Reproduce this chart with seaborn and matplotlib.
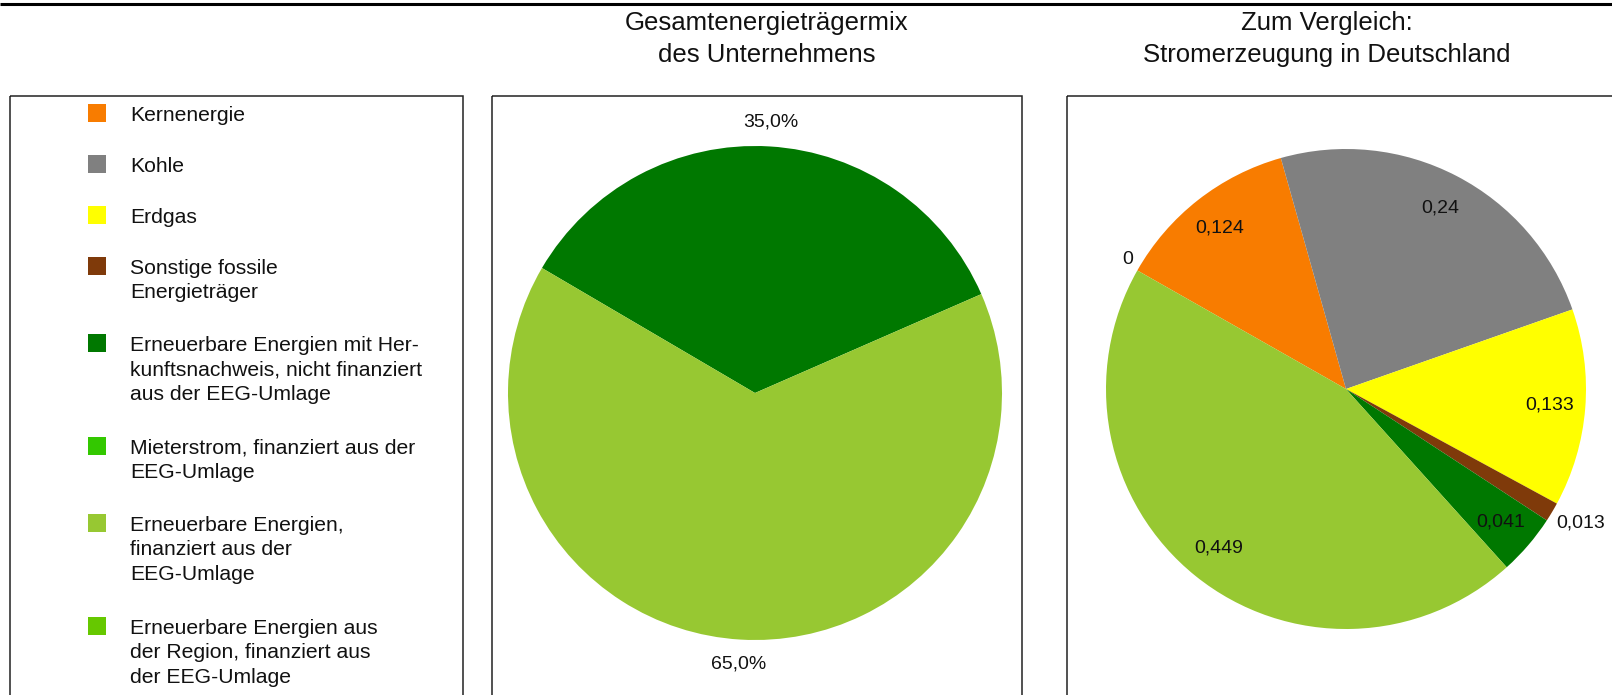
import matplotlib
matplotlib.use("Agg")
import matplotlib.pyplot as plt
from matplotlib.patches import Rectangle
import numpy as np
import seaborn as sns

categories = [
    "Kernenergie",
    "Kohle",
    "Erdgas",
    "Sonstige fossile\nEnergieträger",
    "Erneuerbare Energien mit Her-\nkunftsnachweis, nicht finanziert\naus der EEG-Umlage",
    "Mieterstrom, finanziert aus der\nEEG-Umlage",
    "Erneuerbare Energien,\nfinanziert aus der\nEEG-Umlage",
    "Erneuerbare Energien aus\nder Region, finanziert aus\nder EEG-Umlage",
]
colors = ["#F87C00", "#808080", "#FFFF00", "#7F3A0A", "#007800", "#33C800", "#97C832", "#66C800"]

# Gesamtenergieträgermix des Unternehmens (Anteile)
company_values = [0.35, 0.65]
company_colors = ["#007800", "#97C832"]
company_labels = ["35,0%", "65,0%"]

# Stromerzeugung in Deutschland
germany_values = [0.124, 0.24, 0.133, 0.013, 0.041, 0.0, 0.449, 0.0]
germany_show = [True, True, True, True, True, False, True, True]

W, H = 1612, 695
sns.set_theme(style="white")
plt.rcParams["font.family"] = ["Liberation Sans", "DejaVu Sans"]

fig = plt.figure(figsize=(W / 100, H / 100), dpi=100, facecolor="white")

# full-figure canvas in pixel coordinates for frames, titles and legend
bg = fig.add_axes([0, 0, 1, 1])
bg.set_xlim(0, W)
bg.set_ylim(H, 0)
bg.axis("off")

bg.plot([0, W], [3.8, 3.8], color="black", lw=2.2, solid_capstyle="butt")
for x0, x1 in [(10, 463), (492, 1022), (1067, 1700)]:
    bg.add_patch(Rectangle((x0, 96), x1 - x0, 700, fill=False, ec="#222222", lw=1.1))

bg.text(767, 39, "Gesamtenergieträgermix\ndes Unternehmens", ha="center", va="center",
        fontsize=18.5, linespacing=1.42, color="#111111")
bg.text(1327, 39, "Zum Vergleich:\nStromerzeugung in Deutschland", ha="center", va="center",
        fontsize=18.5, linespacing=1.42, color="#111111")

# legend
y = 113
for cat, col in zip(categories, colors):
    nlines = cat.count("\n") + 1
    bg.add_patch(Rectangle((88, y - 9), 18, 18, color=col, lw=0))
    bg.text(130, y - 7, cat, ha="left", va="top", fontsize=15.2, linespacing=1.36, color="#111111")
    y += 26 * nlines + 25


def pie_axes(cx, cy, r):
    lim = 1.05
    half = r * lim
    return fig.add_axes([(cx - half) / W, 1 - (cy + half) / H, 2 * half / W, 2 * half / H]), lim


def fmt(v):
    if v == 0:
        return "0"
    return ("%.3f" % v).rstrip("0").replace(".", ",")


# pie 1
ax1, lim = pie_axes(755, 393, 247)
wedges1, _ = ax1.pie(company_values, colors=company_colors, startangle=23.6, counterclock=True,
                     wedgeprops=dict(lw=0))
ax1.set_xlim(-lim, lim)
ax1.set_ylim(-lim, lim)
for w, lab in zip(wedges1, company_labels):
    ang = np.deg2rad((w.theta1 + w.theta2) / 2)
    ax1.text(1.1 * np.cos(ang), 1.1 * np.sin(ang), lab, ha="center", va="center",
             fontsize=14, color="#111111")

# pie 2
ax2, lim = pie_axes(1346, 389, 240)
wedges2, _ = ax2.pie(germany_values, colors=colors, startangle=150.4, counterclock=False,
                     wedgeprops=dict(lw=0))
ax2.set_xlim(-lim, lim)
ax2.set_ylim(-lim, lim)
for w, v, show in zip(wedges2, germany_values, germany_show):
    if not show:
        continue
    ang = np.deg2rad((w.theta1 + w.theta2) / 2)
    if v >= 0.03:
        ax2.text(0.85 * np.cos(ang), 0.85 * np.sin(ang), fmt(v), ha="center", va="center",
                 fontsize=14, color="#111111")
    else:
        ha = "left" if np.cos(ang) > 0 else "right"
        va = "bottom" if np.sin(ang) > 0 else "top"
        ax2.text(1.02 * np.cos(ang), 1.02 * np.sin(ang), fmt(v), ha=ha, va=va,
                 fontsize=14, color="#111111")

fig.savefig("out.png", dpi=100, facecolor="white")
